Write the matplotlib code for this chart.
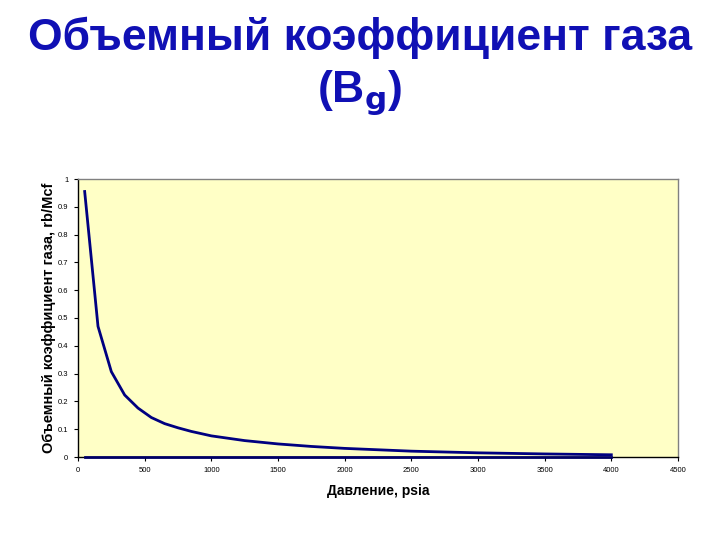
import matplotlib
matplotlib.use("Agg")
import matplotlib.pyplot as plt

pressure = [50, 150, 250, 350, 450, 550, 650, 750, 850, 1000, 1250, 1500, 1750, 2000, 2500, 3000, 3500, 4000]
bg = [0.955, 0.47, 0.307, 0.223, 0.176, 0.142, 0.12, 0.105, 0.092, 0.076, 0.059, 0.047, 0.038, 0.031, 0.021, 0.015, 0.011, 0.008]
bg2 = [0.0] * len(pressure)

x_ticks = [0, 500, 1000, 1500, 2000, 2500, 3000, 3500, 4000, 4500]
y_ticks = [0, 0.1, 0.2, 0.3, 0.4, 0.5, 0.6, 0.7, 0.8, 0.9, 1]
y_tick_labels = ["0", "0.1", "0.2", "0.3", "0.4", "0.5", "0.6", "0.7", "0.8", "0.9", "1"]

plt.rcParams['font.family'] = ['Liberation Sans', 'DejaVu Sans']

fig = plt.figure(figsize=(7.2, 5.4), dpi=100)
ax = fig.add_axes([78/720, 1 - 457/540, 600/720, 278/540])
ax.set_facecolor('#FFFFC6')

ax.plot(pressure, bg2, color='#000066', lw=2, zorder=3, clip_on=False)
ax.plot(pressure, bg, color='#000080', lw=2, zorder=4)

ax.set_xlim(0, 4500)
ax.set_ylim(0, 1)
ax.set_xticks(x_ticks)
ax.set_xticklabels([str(v) for v in x_ticks])
ax.set_yticks(y_ticks)
ax.set_yticklabels(y_tick_labels)
ax.tick_params(axis='both', labelsize=5.5, length=3, width=0.8, direction='out', pad=4)

for s in ['top', 'right']:
    ax.spines[s].set_color('#808080')
    ax.spines[s].set_linewidth(1)
for s in ['left', 'bottom']:
    ax.spines[s].set_color('#000000')
    ax.spines[s].set_linewidth(1)

ax.set_xlabel('Давление, psia', fontsize=10, fontweight='bold', labelpad=7.5)
ax.set_ylabel('Объемный коэффициент газа, rb/Mcf', fontsize=10.5, fontweight='bold', labelpad=1.5)

fig.text(0.5, 1 - 38/540, 'Объемный коэффициент газа', ha='center', va='center',
         fontsize=32, fontweight='bold', color='#1010B4')
fig.text(0.5, 1 - 93/540, r'(B$_\mathbf{g}$)', ha='center', va='center',
         fontsize=32, fontweight='bold', color='#1010B4')

fig.savefig('out.png', dpi=100)
